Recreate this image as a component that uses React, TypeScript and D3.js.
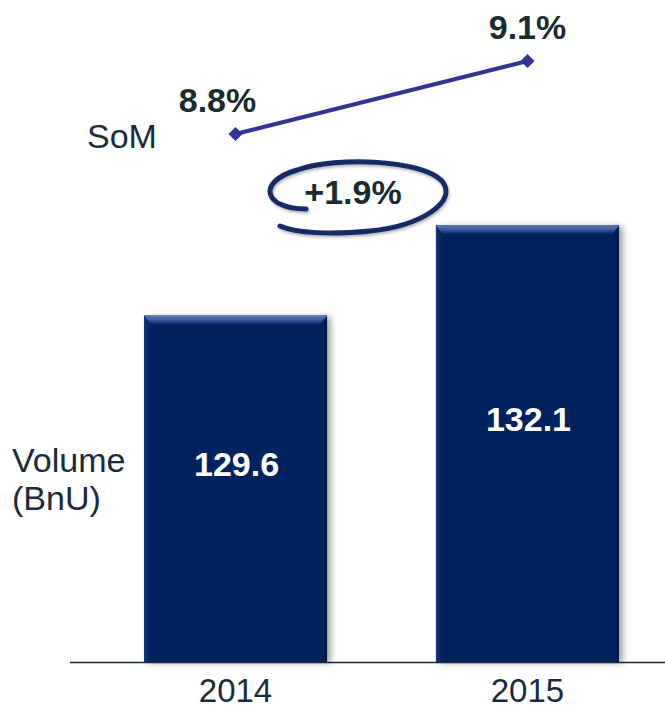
import React from "react";
import * as d3 from "d3";

const years = ["2014", "2015"];
const volume = [129.6, 132.1];
const som = [8.8, 9.1];
const somLabels = ["8.8%", "9.1%"];
const volumeLabels = ["129.6", "132.1"];
const growthLabel = "+1.9%";

const somLabelDx = [-18, 0];

const W = 665;
const H = 709;
const FONT = "'Liberation Sans', Arial, sans-serif";
const FS = 34;

export default function App() {
  const x = d3
    .scaleBand<string>()
    .domain(years)
    .range([70, 693])
    .paddingInner(0.373)
    .paddingOuter(0.2534);
  const y = d3.scaleLinear().domain([120, 132.1]).range([662, 225.4]);
  const ys = d3.scaleLinear().domain([8.8, 9.1]).range([134, 61]);
  const bw = x.bandwidth();

  const pts = years.map((yr, i) => [x(yr)! + bw / 2, ys(som[i])] as [number, number]);
  const line = d3.line<[number, number]>()(pts) || "";

  return (
    <svg width={W} height={H} style={{ position: "absolute", left: 0, top: 0, background: "#fff" }}>
      <defs>
        <filter id="sh" x="-10%" y="-10%" width="130%" height="130%">
          <feGaussianBlur in="SourceAlpha" stdDeviation="3" />
          <feOffset dx="4" dy="1" result="b" />
          <feComponentTransfer>
            <feFuncA type="linear" slope="0.35" />
          </feComponentTransfer>
          <feMerge>
            <feMergeNode />
            <feMergeNode in="SourceGraphic" />
          </feMerge>
        </filter>
        <linearGradient id="topBevel" x1="0" y1="0" x2="0" y2="1">
          <stop offset="0" stopColor="#5a7ab8" />
          <stop offset="0.5" stopColor="#3a5a9c" />
          <stop offset="1" stopColor="#06215f" />
        </linearGradient>
        <linearGradient id="leftBevel" x1="0" y1="0" x2="1" y2="0">
          <stop offset="0" stopColor="#1c3a7c" />
          <stop offset="1" stopColor="#06215f" stopOpacity="0" />
        </linearGradient>
        <linearGradient id="rightBevel" x1="0" y1="0" x2="1" y2="0">
          <stop offset="0" stopColor="#06215f" stopOpacity="0" />
          <stop offset="1" stopColor="#031540" />
        </linearGradient>
        <filter id="esh" x="-10%" y="-20%" width="120%" height="150%">
          <feGaussianBlur in="SourceAlpha" stdDeviation="1.5" />
          <feOffset dx="1" dy="2" />
          <feComponentTransfer>
            <feFuncA type="linear" slope="0.3" />
          </feComponentTransfer>
          <feMerge>
            <feMergeNode />
            <feMergeNode in="SourceGraphic" />
          </feMerge>
        </filter>
      </defs>

      {/* bars */}
      {years.map((yr, i) => {
        const bx = x(yr)!;
        const by = y(volume[i]);
        const bh = y(120) - by;
        return (
          <g key={yr}>
            <rect x={bx} y={by} width={bw} height={bh} fill="#06215f" filter="url(#sh)" />
            <rect x={bx} y={by} width={7} height={bh} fill="url(#leftBevel)" />
            <rect x={bx + bw - 7} y={by} width={7} height={bh} fill="url(#rightBevel)" />
            <path
              d={`M${bx},${by} L${bx + bw},${by} L${bx + bw - 7},${by + 9} L${bx + 7},${by + 9} Z`}
              fill="url(#topBevel)"
            />
            <text
              x={bx + bw / 2 + 1}
              y={by + bh / 2 - 13}
              textAnchor="middle"
              fill="#fff"
              fontFamily={FONT}
              fontWeight="bold"
              fontSize={FS}
            >
              {volumeLabels[i]}
            </text>
            <text
              x={bx + bw / 2}
              y={702}
              textAnchor="middle"
              fill="#1a2b3c"
              fontFamily={FONT}
              fontSize={33}
            >
              {yr}
            </text>
          </g>
        );
      })}

      {/* baseline */}
      <line x1={70} x2={665} y1={662.5} y2={662.5} stroke="#1a2b3c" strokeWidth={1.5} />

      {/* SoM line */}
      <path d={line} fill="none" stroke="#333399" strokeWidth={4} />
      {pts.map((p, i) => (
        <g key={i}>
          <path
            d={`M${p[0]},${p[1] - 7} L${p[0] + 7},${p[1]} L${p[0]},${p[1] + 7} L${p[0] - 7},${p[1]} Z`}
            fill="#333399"
          />
          <text
            x={p[0] + somLabelDx[i]}
            y={p[1] - 22.5}
            textAnchor="middle"
            fill="#1a2b30"
            fontFamily={FONT}
            fontWeight="bold"
            fontSize={FS}
          >
            {somLabels[i]}
          </text>
        </g>
      ))}

      {/* growth ellipse */}
      <path
        d="M306,209 C264,209 256,182 297,170 C338,156 422,160 442,181 C459,202 420,226 370,231 C330,235 296,233 280,226"
        fill="none"
        stroke="#142a66"
        strokeWidth={5}
        strokeLinecap="round"
        filter="url(#esh)"
      />
      <text
        x={353}
        y={204}
        textAnchor="middle"
        fill="#1a2b30"
        fontFamily={FONT}
        fontWeight="bold"
        fontSize={FS}
      >
        {growthLabel}
      </text>

      {/* row labels */}
      <text x={87} y={148} fill="#1a2b3c" fontFamily={FONT} fontSize={FS}>
        SoM
      </text>
      <text x={12} y={472} fill="#1a2b3c" fontFamily={FONT} fontSize={FS}>
        Volume
      </text>
      <text x={12} y={510} fill="#1a2b3c" fontFamily={FONT} fontSize={FS}>
        (BnU)
      </text>
    </svg>
  );
}
